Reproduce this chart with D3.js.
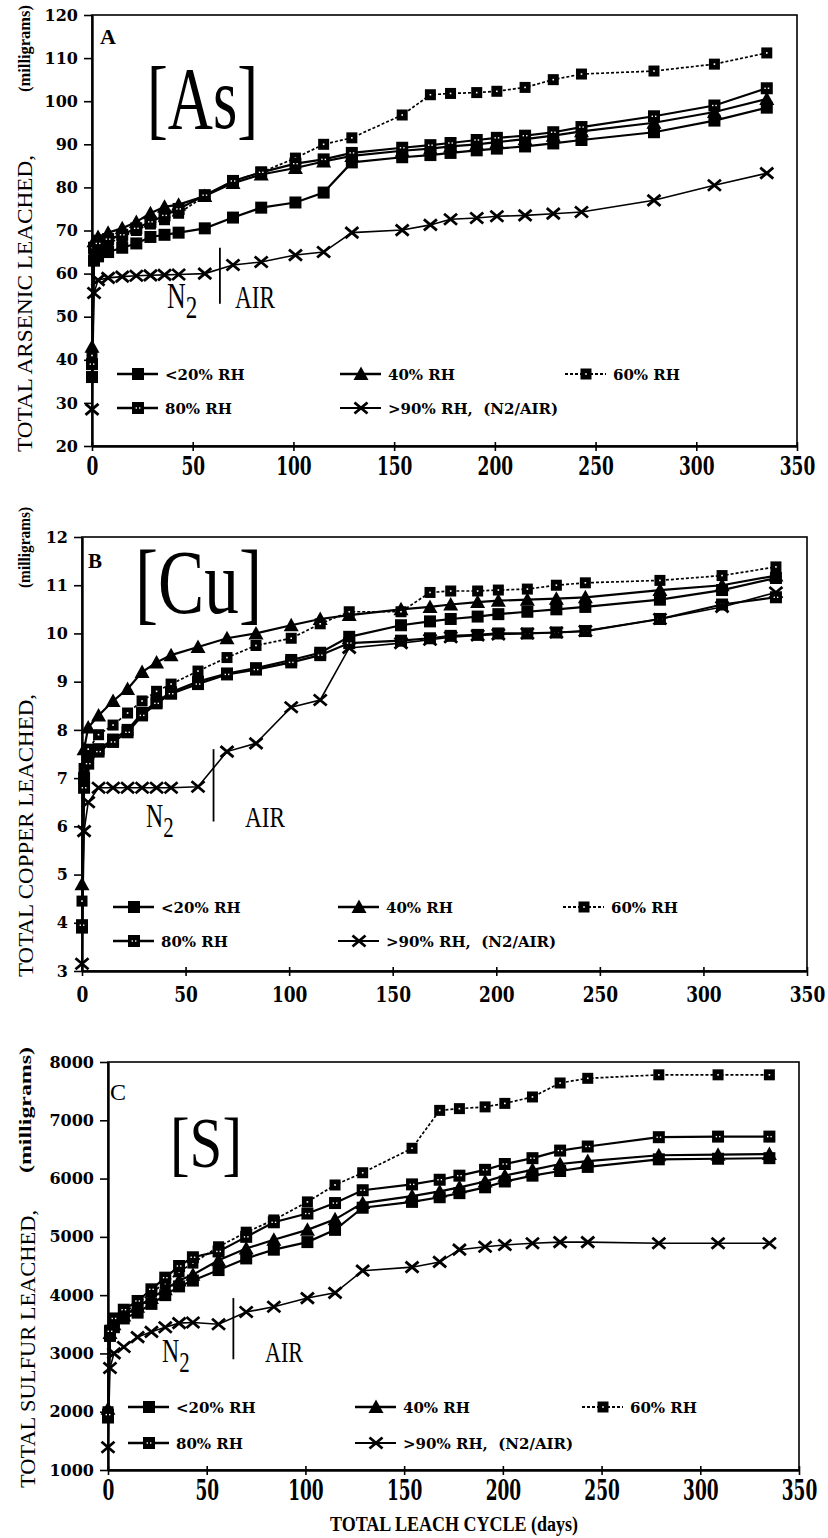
<!DOCTYPE html>
<html>
<head>
  <meta charset="utf-8">
  <script src="https://d3js.org/d3.v7.min.js"></script>
  <style type="text/css">
    body { margin: 0; background: #fff; }
    svg { display: block; }
  </style>
</head>
<body>
<script type="text/javascript">
  // sampling days shared by every series (total leach cycle, days)
  var days = [0, 1, 3, 8, 15, 22, 29, 36, 43, 56, 70, 84, 101, 115, 129, 154, 168, 178, 191, 201, 215, 229, 243, 279, 309, 335];
  var seriesNames = ['<20% RH', '40% RH', '60% RH', '80% RH', '>90% RH,  (N2/AIR)'];
  var xTicks = [0, 50, 100, 150, 200, 250, 300, 350];

  // A - arsenic (mg)
  var asLt20 = [36, 63, 64, 65, 66, 67, 68.5, 69, 69.5, 70.5, 73, 75.3, 76.5, 78.8, 85.8, 87, 87.5, 88, 88.6, 89, 89.5, 90.2, 91, 92.8, 95.5, 98.5];
  var as40   = [43, 67.5, 68.5, 69.5, 70.5, 72, 74, 75.5, 76, 78, 81, 83, 84.5, 86, 87.3, 88.5, 89, 89.5, 90, 90.5, 91.2, 92, 93, 95, 97.5, 100.5];
  var as60   = [41, 65, 66, 67, 68.5, 70, 71.5, 72.5, 74, 78, 81.5, 83.5, 86.8, 90, 91.5, 96.8, 101.5, 101.8, 102, 102.3, 103.2, 105, 106.3, 107, 108.6, 111.2];
  var as80   = [39, 66, 67, 68, 69, 70.5, 72, 73.5, 75, 78.2, 81.5, 83.5, 85.5, 86.5, 88, 89.2, 89.8, 90.3, 91, 91.5, 92, 92.8, 94, 96.5, 99, 103];
  var as90   = [28.5, 55.5, 58.5, 59, 59.3, 59.5, 59.6, 59.7, 59.8, 60, 62, 62.7, 64.3, 65, 69.5, 70.1, 71.3, 72.6, 72.9, 73.3, 73.5, 73.9, 74.3, 77, 80.5, 83.3];
  var yTicksAs = [20, 30, 40, 50, 60, 70, 80, 90, 100, 110, 120];

  // B - copper (mg)
  var cuLt20 = [3.9, 7.0, 7.5, 7.6, 7.8, 8.0, 8.35, 8.58, 8.78, 9.0, 9.17, 9.28, 9.45, 9.6, 9.93, 10.17, 10.25, 10.3, 10.35, 10.4, 10.45, 10.5, 10.55, 10.7, 10.9, 11.15];
  var cu40   = [4.8, 7.6, 8.05, 8.3, 8.6, 8.85, 9.2, 9.4, 9.55, 9.72, 9.9, 10.0, 10.17, 10.3, 10.38, 10.5, 10.55, 10.6, 10.65, 10.68, 10.7, 10.72, 10.75, 10.9, 11.0, 11.2];
  var cu60   = [4.45, 7.2, 7.6, 7.9, 8.1, 8.35, 8.6, 8.8, 8.95, 9.22, 9.5, 9.75, 9.9, 10.2, 10.45, 10.45, 10.85, 10.88, 10.88, 10.9, 10.92, 11.0, 11.05, 11.1, 11.2, 11.38];
  var cu80   = [3.95, 6.8, 7.3, 7.55, 7.75, 7.95, 8.3, 8.55, 8.75, 8.95, 9.15, 9.25, 9.4, 9.55, 9.8, 9.85, 9.9, 9.95, 9.97, 10.0, 10.0, 10.02, 10.05, 10.3, 10.6, 10.75];
  var cu90   = [3.15, 5.9, 6.5, 6.8, 6.8, 6.8, 6.8, 6.8, 6.8, 6.82, 7.55, 7.72, 8.47, 8.62, 9.7, 9.8, 9.87, 9.92, 9.96, 9.98, 10.0, 10.02, 10.05, 10.3, 10.55, 10.85];
  var yTicksCu = [3, 4, 5, 6, 7, 8, 9, 10, 11, 12];

  // C - sulfur (mg)
  var sLt20 = [1900, 3300, 3450, 3600, 3700, 3850, 4000, 4150, 4250, 4430, 4630, 4780, 4910, 5120, 5500, 5600, 5680, 5750, 5850, 5950, 6050, 6130, 6200, 6330, 6340, 6350];
  var s40   = [2050, 3350, 3500, 3650, 3800, 3950, 4100, 4250, 4350, 4600, 4800, 4950, 5120, 5300, 5580, 5700, 5780, 5850, 5950, 6050, 6150, 6250, 6300, 6400, 6410, 6420];
  var s60   = [2000, 3400, 3550, 3700, 3850, 4050, 4200, 4400, 4550, 4830, 5080, 5290, 5600, 5890, 6100, 6520, 7170, 7200, 7230, 7290, 7400, 7640, 7720, 7780, 7780, 7780];
  var s80   = [1950, 3380, 3600, 3750, 3900, 4100, 4300, 4500, 4650, 4750, 5000, 5250, 5400, 5580, 5800, 5900, 5980, 6050, 6150, 6250, 6350, 6480, 6550, 6710, 6720, 6720];
  var s90   = [1390, 2750, 3000, 3110, 3280, 3370, 3450, 3520, 3530, 3500, 3710, 3800, 3950, 4040, 4420, 4480, 4570, 4780, 4830, 4860, 4890, 4910, 4910, 4890, 4890, 4890];
  var yTicksS = [1000, 2000, 3000, 4000, 5000, 6000, 7000, 8000];

  // N2 -> AIR switch day and the span of its marker line in each panel
  var switchDay = 63.5;
  var switchAs = [53, 66], switchCu = [6.1, 7.6], switchS = [2900, 3950];

  // marker + line style per series
  var styles = [
    { marker: 'square', dash: null,  width: 2.2 },
    { marker: 'tri',    dash: null,  width: 2.2 },
    { marker: 'dotsq',  dash: '3,2', width: 1.7 },
    { marker: 'hatch',  dash: null,  width: 2.2 },
    { marker: 'x',      dash: null,  width: 1.6 }
  ];

  var serif = '"Liberation Serif", "Times New Roman", serif';
  var tickFont = '"DejaVu Serif", serif';

  var panels = [
    { box: { l: 92, t: 15, r: 797, b: 446 }, series: [asLt20, as40, as60, as80, as90], yTicks: yTicksAs, sw: switchAs,
      xLab: { top: 11, sy: 1.5 },
      letter: { t: 'A', x: 100, y: 44, size: 22, bold: true },
      element: { t: '[As]', x: 147, y: 128, size: 88, len: 111 },
      n2: { x: 167, y: 308, size: 36 }, air: { x: 235, y: 308, size: 32, len: 40 },
      yTitle: { t: 'TOTAL ARSENIC LEACHED,', x: 32, y: 452, len: 297 },
      mg: { x: 30, y: 92, len: 87 },
      legend: { cols: [117, 340, 565], rows: [374, 408] } },
    { box: { l: 82, t: 537, r: 807, b: 971 }, series: [cuLt20, cu40, cu60, cu80, cu90], yTicks: yTicksCu, sw: switchCu,
      xLab: { top: 14, sy: 1.35 },
      letter: { t: 'B', x: 88, y: 568, size: 21, bold: true },
      element: { t: '[Cu]', x: 135, y: 613, size: 90, len: 127 },
      n2: { x: 146, y: 827, size: 33 }, air: { x: 245, y: 827, size: 30, len: 40 },
      yTitle: { t: 'TOTAL COPPER LEACHED,', x: 33, y: 977, len: 283 },
      mg: { x: 30, y: 588, len: 81 },
      legend: { cols: [113, 338, 563], rows: [907, 941] } },
    { box: { l: 108, t: 1062, r: 799, b: 1470 }, series: [sLt20, s40, s60, s80, s90], yTicks: yTicksS, sw: switchS,
      xLab: { top: 10, sy: 1.6 },
      letter: { t: 'C', x: 110, y: 1100, size: 24, bold: false },
      element: { t: '[S]', x: 170, y: 1167, size: 72, len: 72 },
      n2: { x: 162, y: 1362, size: 33 }, air: { x: 265, y: 1362, size: 30, len: 38 },
      yTitle: { t: 'TOTAL SULFUR LEACHED,', x: 35, y: 1488, len: 278 },
      mg: { x: 31, y: 1173, len: 126 },
      legend: { cols: [128, 355, 582], rows: [1407, 1443] } }
  ];

  var svg = d3.select('body').append('svg')
      .attr('width', 828)
      .attr('height', 1538);

  function drawMarker(g, type, cx, cy) {
    var m = g.append('g').attr('transform', 'translate(' + cx + ',' + cy + ')');
    if (type === 'square') {
      m.append('rect').attr('x', -6).attr('y', -6).attr('width', 12).attr('height', 12).attr('fill', '#000');
    } else if (type === 'tri') {
      m.append('path').attr('d', 'M0,-7.5L7.5,6L-7.5,6Z').attr('fill', '#000');
    } else if (type === 'dotsq') {
      m.append('rect').attr('x', -5.5).attr('y', -5.5).attr('width', 11).attr('height', 11).attr('fill', '#000');
      m.append('rect').attr('x', -0.8).attr('y', -0.8).attr('width', 1.6).attr('height', 1.6).attr('fill', '#fff');
    } else if (type === 'hatch') {
      m.append('rect').attr('x', -6).attr('y', -6).attr('width', 12).attr('height', 12).attr('fill', '#000');
      m.append('rect').attr('x', -2.4).attr('y', -0.7).attr('width', 1.4).attr('height', 1.4).attr('fill', '#fff');
      m.append('rect').attr('x', 1).attr('y', -0.7).attr('width', 1.4).attr('height', 1.4).attr('fill', '#fff');
    } else {
      m.append('path').attr('d', 'M-6.5,-5.5L6.5,5.5M-6.5,5.5L6.5,-5.5')
        .attr('stroke', '#000').attr('stroke-width', 2.8).attr('fill', 'none');
    }
  }

  panels.forEach(function (p) {
    var b = p.box;
    var x = d3.scaleLinear().domain([0, 350]).range([b.l, b.r]);
    var y = d3.scaleLinear().domain([p.yTicks[0], p.yTicks[p.yTicks.length - 1]]).range([b.b, b.t]);
    var g = svg.append('g');

    // frame
    g.append('rect')
      .attr('x', b.l).attr('y', b.t)
      .attr('width', b.r - b.l).attr('height', b.b - b.t)
      .attr('fill', 'none').attr('stroke', '#000').attr('stroke-width', 1.6);

    // x axis
    var gx = g.append('g')
      .attr('transform', 'translate(0,' + b.b + ')')
      .call(d3.axisBottom(x).tickValues(xTicks).tickSizeOuter(0));
    gx.select('.domain').attr('stroke-width', 2.4);
    gx.selectAll('.tick line').attr('y1', -4).attr('y2', 5).attr('stroke-width', 1.6);
    gx.selectAll('.tick text')
      .attr('y', 0).attr('dy', '0.72em')
      .attr('transform', 'translate(0,' + p.xLab.top + ') scale(1,' + p.xLab.sy + ')')
      .style('font-family', tickFont).style('font-size', '17px').style('font-weight', 'bold');

    // y axis (plain integers, no thousands separator)
    var gy = g.append('g')
      .attr('transform', 'translate(' + b.l + ',0)')
      .call(d3.axisLeft(y).tickValues(p.yTicks).tickFormat(d3.format('d'))
        .tickSize(8).tickPadding(6).tickSizeOuter(0));
    gy.select('.domain').attr('stroke-width', 2.4);
    gy.selectAll('.tick line').attr('stroke-width', 1.6);
    gy.selectAll('.tick text')
      .style('font-family', tickFont).style('font-size', '16px').style('font-weight', 'bold');

    // N2 / AIR switch marker
    g.append('line')
      .attr('x1', x(switchDay)).attr('x2', x(switchDay))
      .attr('y1', y(p.sw[0])).attr('y2', y(p.sw[1]))
      .attr('stroke', '#000').attr('stroke-width', 1.8);

    // lines
    var line = d3.line()
      .x(function (d) { return x(d[0]); })
      .y(function (d) { return y(d[1]); });
    p.series.forEach(function (vals, i) {
      g.append('path')
        .datum(d3.zip(days, vals))
        .attr('d', line)
        .attr('fill', 'none')
        .attr('stroke', '#000')
        .attr('stroke-width', styles[i].width)
        .attr('stroke-dasharray', styles[i].dash);
    });
    // markers
    p.series.forEach(function (vals, i) {
      vals.forEach(function (v, j) {
        drawMarker(g, styles[i].marker, x(days[j]), y(v));
      });
    });

    // legend
    var slots = [[0, 0], [1, 0], [2, 0], [0, 1], [1, 1]];
    seriesNames.forEach(function (name, i) {
      var lx = p.legend.cols[slots[i][0]], ly = p.legend.rows[slots[i][1]];
      g.append('line')
        .attr('x1', lx).attr('x2', lx + 41).attr('y1', ly).attr('y2', ly)
        .attr('stroke', '#000').attr('stroke-width', styles[i].width + 0.4)
        .attr('stroke-dasharray', styles[i].dash);
      drawMarker(g, styles[i].marker, lx + 21, ly);
      g.append('text')
        .attr('x', lx + 48).attr('y', ly + 6)
        .style('font-family', tickFont).style('font-size', '15px').style('font-weight', 'bold')
        .style('white-space', 'pre')
        .text(name);
    });

    // panel letter and element label
    g.append('text')
      .attr('x', p.letter.x).attr('y', p.letter.y)
      .style('font-family', serif).style('font-size', p.letter.size + 'px')
      .style('font-weight', p.letter.bold ? 'bold' : 'normal')
      .text(p.letter.t);
    g.append('text')
      .attr('x', p.element.x).attr('y', p.element.y)
      .attr('textLength', p.element.len).attr('lengthAdjust', 'spacingAndGlyphs')
      .style('font-family', serif).style('font-size', p.element.size + 'px')
      .text(p.element.t);

    // N2 (one text with a subscript) and AIR annotations
    var n2 = g.append('text')
      .attr('transform', 'translate(' + p.n2.x + ',' + p.n2.y + ') scale(0.72,1)')
      .style('font-family', serif).style('font-size', p.n2.size + 'px');
    n2.append('tspan').text('N');
    n2.append('tspan').attr('dy', 10).style('font-size', (p.n2.size - 4) + 'px').text('2');
    g.append('text')
      .attr('x', p.air.x).attr('y', p.air.y)
      .attr('textLength', p.air.len).attr('lengthAdjust', 'spacingAndGlyphs')
      .style('font-family', serif).style('font-size', p.air.size + 'px')
      .text('AIR');

    // y titles
    g.append('text')
      .attr('transform', 'translate(' + p.yTitle.x + ',' + p.yTitle.y + ') rotate(-90)')
      .attr('textLength', p.yTitle.len).attr('lengthAdjust', 'spacingAndGlyphs')
      .style('font-family', serif).style('font-size', '20px')
      .text(p.yTitle.t);
    g.append('text')
      .attr('transform', 'translate(' + p.mg.x + ',' + p.mg.y + ') rotate(-90)')
      .attr('textLength', p.mg.len).attr('lengthAdjust', 'spacingAndGlyphs')
      .style('font-family', serif).style('font-size', '16px').style('font-weight', 'bold')
      .text('(milligrams)');
  });

  // shared x title
  svg.append('text')
    .attr('x', 330).attr('y', 1531)
    .attr('textLength', 248).attr('lengthAdjust', 'spacingAndGlyphs')
    .style('font-family', serif).style('font-size', '20px').style('font-weight', 'bold')
    .text('TOTAL LEACH CYCLE (days)');
</script>
</body>
</html>
